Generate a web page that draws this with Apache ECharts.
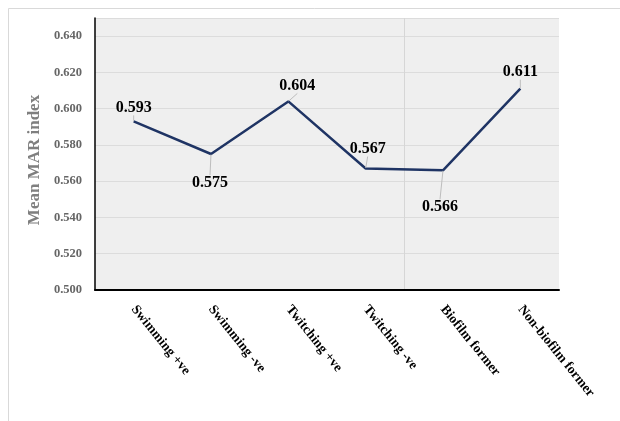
<!DOCTYPE html>
<html><head><meta charset="utf-8">
<script src="https://cdn.jsdelivr.net/npm/echarts@6/dist/echarts.min.js"></script>
<style>html,body{margin:0;padding:0;background:#fff}#c{width:620px;height:421px}</style>
</head><body><div id="c"></div>
<script>
const categories = ['Swimming +ve', 'Swimming -ve', 'Twitching +ve', 'Twitching -ve', 'Biofilm former', 'Non-biofilm former'];
const meanMAR = [0.593, 0.575, 0.604, 0.567, 0.566, 0.611];
const yTicks = { min: 0.5, max: 0.65, interval: 0.02 };
const labelShift = [[0, -14], [-1, 29], [9, -16], [2, -20], [-3, 37], [0, -17]];

const chart = echarts.init(document.getElementById('c'), null, { renderer: 'canvas' });
const serif = "'Liberation Serif', 'Times New Roman', serif";
chart.setOption({
  animation: false,
  backgroundColor: '#fff',
  graphic: [
    { type: 'line', shape: { x1: 8.5, y1: 8.5, x2: 620, y2: 8.5 }, style: { stroke: '#d9d9d9', lineWidth: 1 } },
    { type: 'line', shape: { x1: 8.5, y1: 8.5, x2: 8.5, y2: 421 }, style: { stroke: '#d9d9d9', lineWidth: 1 } }
  ],
  grid: { left: 95, right: 61, top: 18, bottom: 131, show: true, backgroundColor: '#efefef', borderWidth: 0 },
  xAxis: [{
    type: 'category', data: categories, boundaryGap: true, z: 3,
    axisLine: { lineStyle: { color: '#000', width: 2 } },
    axisTick: { show: false },
    splitLine: { show: false },
    axisLabel: { rotate: -51, margin: 17, fontFamily: serif, fontWeight: 'bold', fontSize: 13.5, color: '#000', interval: 0 }
  }, {
    type: 'value', min: 0, max: 6, interval: 4, position: 'top',
    axisLine: { show: false }, axisTick: { show: false }, axisLabel: { show: false },
    splitLine: { show: true, showMinLine: false, showMaxLine: false, lineStyle: { color: '#d6d6d6', width: 1 } }
  }],
  yAxis: {
    type: 'value', min: yTicks.min, max: yTicks.max, interval: yTicks.interval,
    name: 'Mean MAR index', nameLocation: 'middle', nameGap: 51,
    nameTextStyle: { fontFamily: serif, fontWeight: 'bold', fontSize: 17, color: '#7f7f7f', padding: [0, 12, 0, 0] },
    axisLine: { show: true, lineStyle: { color: '#000', width: 1.5 } },
    axisTick: { show: false },
    splitLine: { lineStyle: { color: '#dcdcdc', width: 1 } },
    axisLabel: { showMaxLabel: false, margin: 13, fontFamily: serif, fontWeight: 'bold', fontSize: 12.5, color: '#666',
      formatter: v => v.toFixed(3) }
  },
  series: [{
    type: 'line', data: meanMAR, showSymbol: true, symbol: 'circle', symbolSize: 1,
    itemStyle: { color: 'rgba(0,0,0,0)', borderWidth: 0 },
    lineStyle: { color: '#1f3464', width: 2.5 },
    label: { show: true, position: 'inside', fontFamily: serif, fontWeight: 'bold', fontSize: 16, color: '#000',
      formatter: p => p.value.toFixed(3) },
    labelLine: { show: true, lineStyle: { color: '#bdbdbd', width: 1 } },
    labelLayout: p => ({ dx: labelShift[p.dataIndex][0], dy: labelShift[p.dataIndex][1] })
  }]
});
</script></body></html>
